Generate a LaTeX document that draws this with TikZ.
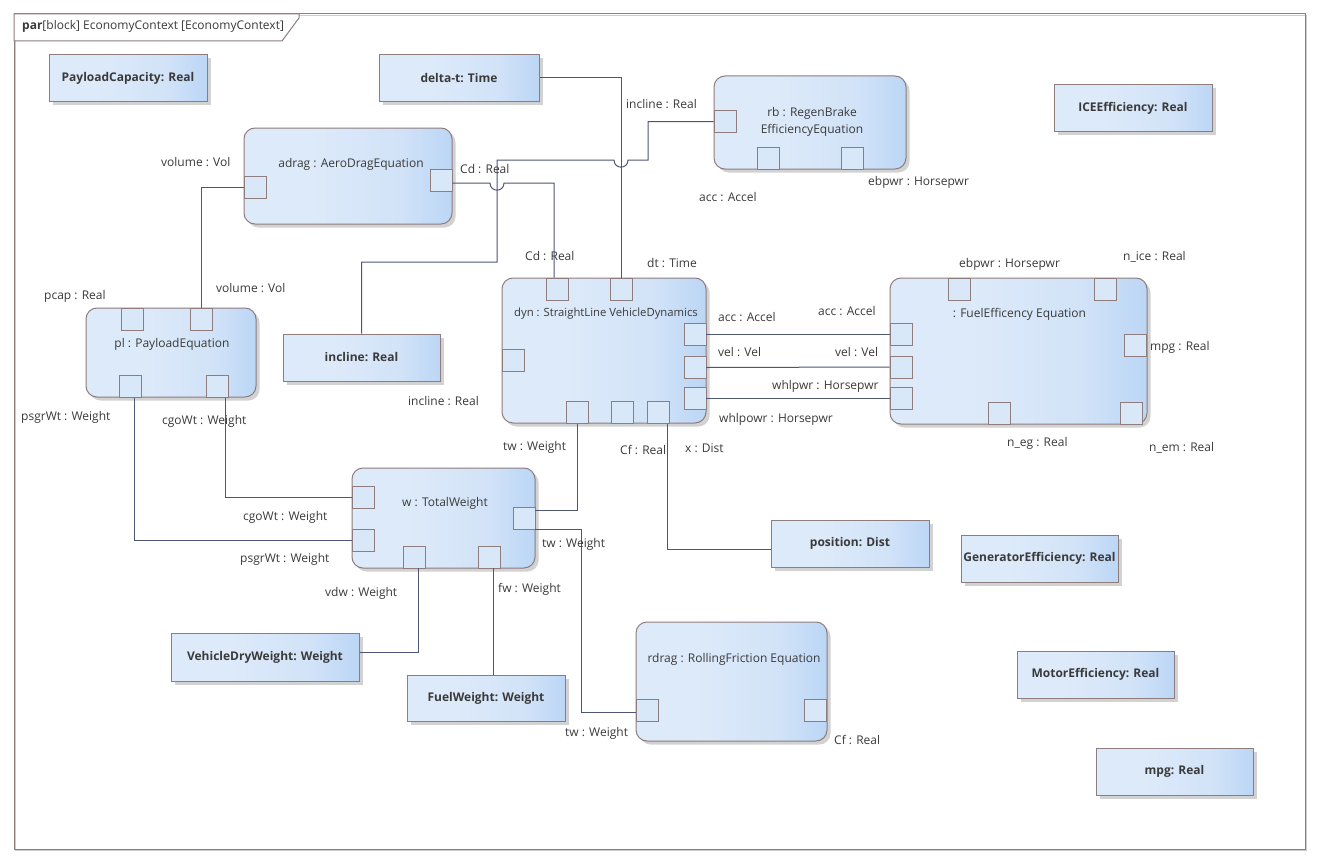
\documentclass[tikz,border=0pt]{standalone}
\usepackage{fontspec}
\setmainfont{Open Sans}
\usetikzlibrary{shadows,calc}
\definecolor{bord}{HTML}{8F7C7C}
\definecolor{fillL}{HTML}{DDEAF9}
\definecolor{fillM}{HTML}{D2E3F8}
\definecolor{fillR}{HTML}{BBD6F5}
\definecolor{portc}{HTML}{D9E8F9}
\definecolor{wirec}{HTML}{4E5675}
\definecolor{txtc}{HTML}{3A3A3A}
\definecolor{shadc}{HTML}{D2D2D2}
\pgfdeclarehorizontalshading{eagrad}{100bp}{color(0bp)=(fillL); color(25bp)=(fillL); color(40bp)=(fillL); color(62bp)=(fillM); color(75bp)=(fillR); color(100bp)=(fillR)}
\tikzset{
  basefont/.style={font=\fontsize{12}{14}\selectfont, text=txtc},
  lbl/.style={basefont, anchor=west, inner sep=0, text height=9pt, text depth=3pt},
  ttl/.style={basefont, inner sep=0, align=center},
  eashadow/.style={drop shadow={shadow xshift=3.5pt, shadow yshift=-3.5pt, fill=shadc, opacity=1}},
  partbox/.style={draw=bord, line width=1pt, shading=eagrad, eashadow, inner sep=0,
    font=\fontsize{12}{14}\selectfont\bfseries, text=txtc, minimum width=158pt, minimum height=46pt},
  cblock/.style={draw=bord, line width=1pt, rounded corners=11pt, shading=eagrad, eashadow, inner sep=0},
  port/.style={draw=bord, line width=0.9pt, fill=portc, minimum width=22pt, minimum height=22pt, inner sep=0},
  conn/.style={draw=wirec, line width=1pt},
}
\begin{document}
\begin{tikzpicture}[x=1pt,y=-1pt]
\useasboundingbox (0,0) rectangle (1323,867);
\fill[white] (0,0) rectangle (1323,867);
% frame
\draw[gray!40, line width=1.5pt] (15.5,15.5) rectangle (1306.5,850.5);
\draw[bord, line width=1pt] (14,14) rectangle (1305,849);
\draw[bord, line width=1pt, fill=white] (14,14) -- (299,14) -- (299,18) -- (282,41) -- (14,41) -- cycle;
\node[lbl] (hdr) at (22,27) {\textbf{par}[block] EconomyContext [EconomyContext]};

% part properties
\node[partbox] (pcap) at (128,78) {PayloadCapacity: Real};
\node[partbox, minimum width=160pt] (deltat) at (459,78) {delta-t: Time};
\node[partbox] (iceeff) at (1133,108) {ICEEfficiency: Real};
\node[partbox, minimum width=157pt, minimum height=47pt] (incl) at (361.5,357.5) {incline: Real};
\node[partbox, minimum height=47pt] (posn) at (850,543.5) {position: Dist};
\node[partbox, minimum width=157pt, minimum height=47pt] (geneff) at (1039.5,558.5) {GeneratorEfficiency: Real};
\node[partbox, minimum width=157pt, minimum height=47pt] (moteff) at (1095.5,674.5) {MotorEfficiency: Real};
\node[partbox, minimum width=157pt, minimum height=47pt] (mpgp) at (1174.5,771.5) {mpg: Real};
\node[partbox, minimum width=188pt, minimum height=48pt] (vdw) at (265,657) {VehicleDryWeight: Weight};
\node[partbox] (fuelw) at (486,698) {FuelWeight: Weight};

% constraint blocks
\node[cblock, minimum width=208pt, minimum height=96pt] (adrag) at (348,176) {};
\node[cblock, minimum width=192pt, minimum height=93pt] (rb) at (810,122.5) {};
\node[cblock, minimum width=204pt, minimum height=145pt] (dyn) at (604,350.5) {};
\node[cblock, minimum width=257pt, minimum height=146pt] (fe) at (1018.5,351) {};
\node[cblock, minimum width=170pt, minimum height=89pt] (pl) at (171,352.5) {};
\node[cblock, minimum width=183pt, minimum height=100pt] (w) at (443.5,518) {};
\node[cblock, minimum width=191pt, minimum height=119pt] (rdrag) at (731.5,681.5) {};

\node[ttl] (adragT) at (351,164) {adrag : AeroDragEquation};
\node[ttl, font=\fontsize{12}{17}\selectfont] (rbT) at (812,121.5) {rb : RegenBrake\\EfficiencyEquation};
\node[ttl, font=\fontsize{11.3}{14}\selectfont] (dynT) at (606,314) {dyn : StraightLine VehicleDynamics};
\node[ttl] (feT) at (1019.5,314) {: FuelEfficency Equation};
\node[ttl] (plT) at (172,344) {pl : PayloadEquation};
\node[ttl] (wT) at (445,503) {w : TotalWeight};
\node[ttl] (rdragT) at (734,659) {rdrag : RollingFriction Equation};

% ports
\node[port] (aL) at (255,187) {};
\node[port] (aR) at (441,180.5) {};
\node[port] (rbL) at (725,121.5) {};
\node[port] (rbB1) at (768,158) {};
\node[port] (rbB2) at (852,158) {};
\node[port] (dT1) at (557,289) {};
\node[port] (dT2) at (621,289) {};
\node[port] (dL) at (513,360) {};
\node[port] (dR1) at (695,334) {};
\node[port] (dR2) at (695,367.5) {};
\node[port] (dR3) at (695,398.5) {};
\node[port] (dB1) at (577,412.5) {};
\node[port] (dB2) at (622,412.5) {};
\node[port] (dB3) at (658,412.5) {};
\node[port] (fT1) at (959,289) {};
\node[port] (fT2) at (1105,289) {};
\node[port] (fL1) at (901,334) {};
\node[port] (fL2) at (901,367) {};
\node[port] (fL3) at (901,398.5) {};
\node[port] (fR) at (1135.5,345.5) {};
\node[port] (fB1) at (999,413.5) {};
\node[port] (fB2) at (1131,413.5) {};
\node[port] (pT1) at (132,319) {};
\node[port] (pT2) at (201,319) {};
\node[port] (pB1) at (130.5,386.5) {};
\node[port] (pB2) at (217.5,386.5) {};
\node[port] (wL1) at (363,497) {};
\node[port] (wL2) at (363,540) {};
\node[port] (wR) at (524,518.5) {};
\node[port] (wB1) at (414,557) {};
\node[port] (wB2) at (489,557) {};
\node[port] (rL) at (647,710) {};
\node[port] (rR) at (815.5,710) {};

% connectors
\draw[conn] (deltat.east) -| (dT2.north);
\draw[conn] (incl.north) |- (497,262) -- (497,160) -- (614,160)
  .. controls (614,169.5) and (628,169.5) .. (628,160) -- (648,160) |- (rbL.west);
\draw[conn] ($(aR.east)+(0,2.5)$) -- (490,183)
  .. controls (490,192.5) and (504,192.5) .. (504,183) -| ($(dT1.north)+(-3,0)$);
\draw[conn] (aL.west) -| (pT2.north);
\draw[conn] ($(pB2.south)+(8,0)$) |- (wL1.west);
\draw[conn] ($(pB1.south)+(4,0)$) |- (wL2.west);
\draw[conn] ($(wR.east)+(0,-8)$) -| (dB1.south);
\draw[conn] ($(wR.east)+(0,10.5)$) -- (581,529) |- ($(rL.west)+(0,2)$);
\draw[conn] ($(wB1.south)+(4,0)$) |- ($(vdw.east)+(0,-5)$);
\coordinate (fwx) at ($(wB2.south)+(4,0)$);
\draw[conn] (fwx) -- (fwx |- fuelw.north);
\draw[conn] ($(dB3.south)+(9,0)$) |- ($(posn.west)+(0,5.5)$);
\draw[conn] (dR1.east) -- (fL1.west);
\draw[conn] (dR2.east) -- (fL2.west);
\draw[conn] (dR3.east) -- (fL3.west);

% port labels
\node[lbl] (l1) at (161,163) {volume : Vol};
\node[lbl] (l2) at (216,289) {volume : Vol};
\node[lbl] (l3) at (44,296) {pcap : Real};
\node[lbl] (l4) at (21,417) {psgrWt : Weight};
\node[lbl] (l5) at (162,421) {cgoWt : Weight};
\node[lbl] (l6) at (408,402) {incline : Real};
\node[lbl] (l7) at (243,517) {cgoWt : Weight};
\node[lbl] (l8) at (240,559) {psgrWt : Weight};
\node[lbl] (l9) at (325,593) {vdw : Weight};
\node[lbl] (l10) at (498,589) {fw : Weight};
\node[lbl] (l11) at (542,544) {tw : Weight};
\node[lbl] (l12) at (565,733) {tw : Weight};
\node[lbl] (l13) at (834,741) {Cf : Real};
\node[lbl] (l14) at (503,447) {tw : Weight};
\node[lbl] (l15) at (620,451) {Cf : Real};
\node[lbl] (l16) at (685,449) {x : Dist};
\node[lbl] (l17) at (719,419) {whlpowr : Horsepwr};
\node[lbl] (l18) at (718,318) {acc : Accel};
\node[lbl] (l19) at (718,353) {vel : Vel};
\node[lbl] (l20) at (818,312) {acc : Accel};
\node[lbl] (l21) at (835,353) {vel : Vel};
\node[lbl] (l22) at (772,386) {whlpwr : Horsepwr};
\node[lbl] (l23) at (959,264) {ebpwr : Horsepwr};
\node[lbl] (l24) at (1123,257) {n\_ice : Real};
\node[lbl] (l25) at (1150,347) {mpg : Real};
\node[lbl] (l26) at (1007,443) {n\_eg : Real};
\node[lbl] (l27) at (1149,448) {n\_em : Real};
\node[lbl] (l28) at (868,182) {ebpwr : Horsepwr};
\node[lbl] (l29) at (699,198) {acc : Accel};
\node[lbl] (l30) at (626,106) {incline : Real};
\node[lbl] (l31) at (460,170) {Cd : Real};
\node[lbl] (l32) at (525,257) {Cd : Real};
\node[lbl] (l33) at (647,264) {dt : Time};
\end{tikzpicture}
\end{document}
